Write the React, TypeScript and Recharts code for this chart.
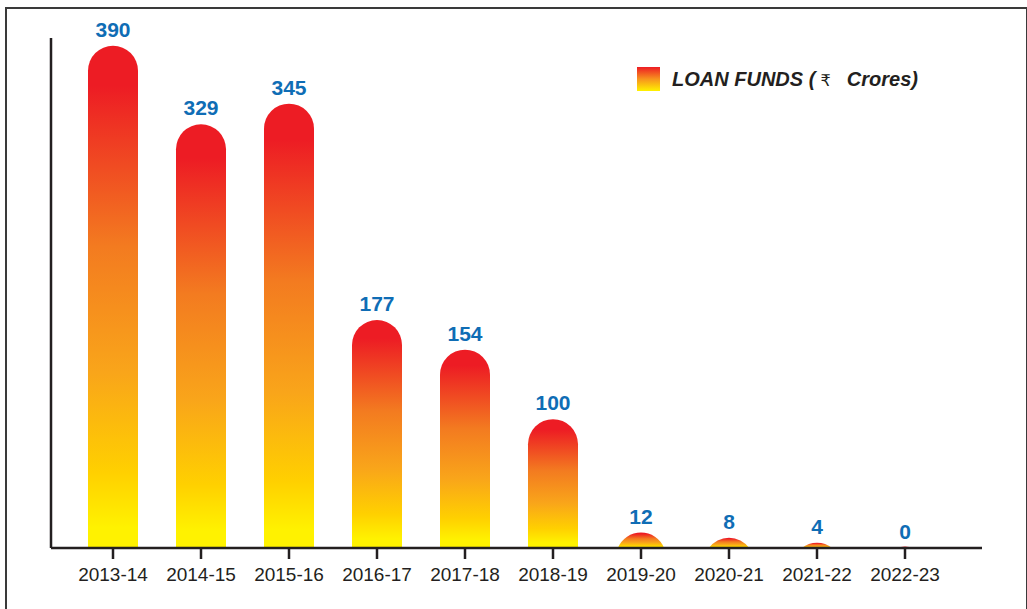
import React from 'react';
import { BarChart, Bar, XAxis, YAxis, LabelList } from 'recharts';

const years = ['2013-14', '2014-15', '2015-16', '2016-17', '2017-18', '2018-19', '2019-20', '2020-21', '2021-22', '2022-23'];
const loanFunds = [390, 329, 345, 177, 154, 100, 12, 8, 4, 0];

const data = years.map((year, i) => ({ year, loan: loanFunds[i] }));

const AXIS = '#231F20';
const FONT = '"Liberation Sans", Arial, sans-serif';

// rounded-top bar, clipped at the baseline for small values
const PillBar = (props: any) => {
  const { x, y, width, height } = props;
  const r = width / 2;
  const h = Math.max(height, 1.5);
  const base = y + height;
  const top = base - h;
  const cx = x + r;
  let d: string;
  if (h >= r) {
    d = `M${x},${base} L${x},${top + r} A${r},${r} 0 0 1 ${x + width},${top + r} L${x + width},${base} Z`;
  } else {
    const half = Math.sqrt(r * r - (r - h) * (r - h));
    d = `M${cx - half},${base} A${r},${r} 0 0 1 ${cx + half},${base} Z`;
  }
  return <path d={d} fill="url(#loanGrad)" />;
};

const LegendBox = () => (
  <div style={{ position: 'absolute', left: 637, top: 67, display: 'flex', alignItems: 'center', fontFamily: FONT }}>
    <svg width={23} height={24} style={{ display: 'block' }}>
      <defs>
        <linearGradient id="legGrad" x1="0" y1="0" x2="0" y2="1">
          <stop offset="0" stopColor="#ED1C24" />
          <stop offset="0.5" stopColor="#F7931E" />
          <stop offset="1" stopColor="#FFF200" />
        </linearGradient>
      </defs>
      <rect width={23} height={24} fill="url(#legGrad)" />
    </svg>
    <span style={{ marginLeft: 12, fontSize: 20, fontWeight: 700, fontStyle: 'italic', color: AXIS, whiteSpace: 'pre' }}>
      LOAN FUNDS (<span style={{ fontWeight: 400, fontStyle: 'normal', fontFamily: '"DejaVu Sans", sans-serif', fontSize: 16 }}> ₹ </span>  Crores)
    </span>
  </div>
);

export default function App() {
  return (
    <div style={{ position: 'absolute', left: 0, top: 0, width: 1027, height: 609, overflow: 'hidden', background: '#fff' }}>
      <div style={{ position: 'absolute', left: 5, top: 7, width: 1019, height: 640, border: '2.5px solid #3a3a3a' }} />
      <div style={{ position: 'absolute', left: 0, top: 0 }}>
        <BarChart width={1027} height={609} data={data} margin={{ top: 38, right: 45, bottom: 0, left: 50 }}>
          <defs>
            <linearGradient id="loanGrad" x1="0" y1="0" x2="0" y2="1">
              <stop offset="0" stopColor="#ED1C24" />
              <stop offset="0.08" stopColor="#ED1C24" />
              <stop offset="0.4" stopColor="#F37B20" />
              <stop offset="0.65" stopColor="#F9A51A" />
              <stop offset="0.85" stopColor="#FFD000" />
              <stop offset="0.96" stopColor="#FFF200" />
              <stop offset="1" stopColor="#FFF200" />
            </linearGradient>
          </defs>
          <XAxis
            dataKey="year"
            height={61}
            padding={{ left: 18, right: 33 }}
            axisLine={{ stroke: AXIS, strokeWidth: 2.5 }}
            tickLine={{ stroke: AXIS, strokeWidth: 2.5 }}
            tickSize={11}
            tickMargin={9}
            interval={0}
            fontSize={19}
            fontFamily={FONT}
            tick={{ fill: AXIS, fontSize: 19, fontFamily: FONT }}
          />
          <YAxis
            width={1}
            domain={[0, 396]}
            allowDataOverflow
            tick={false}
            tickLine={false}
            axisLine={{ stroke: AXIS, strokeWidth: 2.5 }}
          />
          <Bar dataKey="loan" barSize={50} shape={<PillBar />} isAnimationActive={false}>
            <LabelList
              dataKey="loan"
              position="top"
              offset={9}
              fill="#0F6DB5"
              fontSize={21}
              fontWeight={700}
              fontFamily={FONT}
            />
          </Bar>
        </BarChart>
      </div>
      <LegendBox />
    </div>
  );
}
